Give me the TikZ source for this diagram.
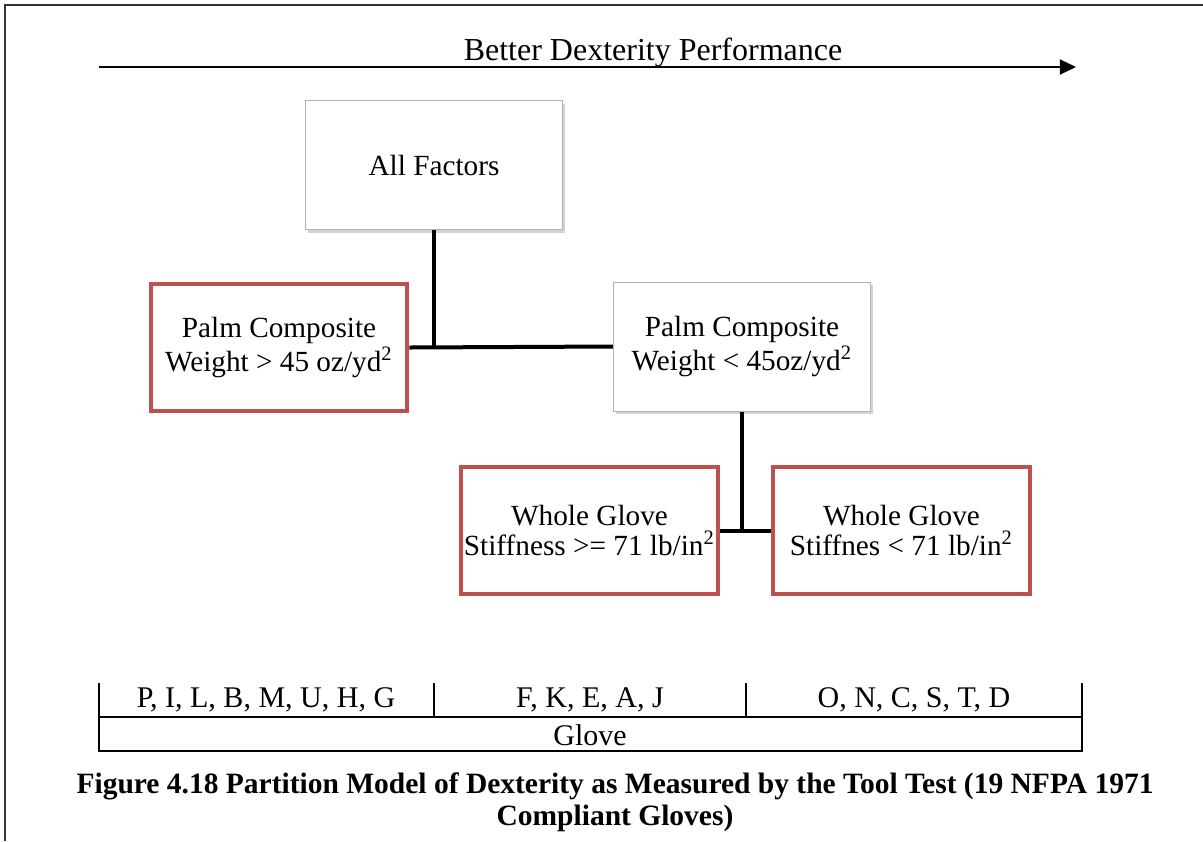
\documentclass[tikz,border=0pt]{standalone}
\usepackage{fontspec}
\setmainfont{Liberation Serif}
\usetikzlibrary{positioning,arrows.meta,shadows}
\definecolor{redbox}{RGB}{192,80,77}

\begin{document}
\begin{tikzpicture}[x=0.4pt,y=-0.4pt,>={Triangle[length=6.5pt,width=6pt]},
    every node/.style={font=\fontsize{12}{12.2}\selectfont,align=center},
    gbox/.style={draw=gray!60,line width=0.4pt,fill=white,minimum width=103pt,minimum height=51.6pt,
      inner sep=1pt,font=\fontsize{11.7}{12}\selectfont,
      drop shadow={shadow xshift=1pt,shadow yshift=-1.2pt,opacity=0.35}},
    rbox/.style={draw=redbox,line width=1.6pt,fill=white,minimum width=102.6pt,minimum height=50.6pt,
      inner sep=1pt,font=\fontsize{11.7}{12}\selectfont},
    link/.style={line width=1.6pt},
    rule/.style={line width=0.8pt}]
      \useasboundingbox (0,0) rectangle (1203,841);
      \draw[line width=0.9pt,black!80] (5,841) -- (5,5) -- (1203,5);
      % dexterity arrow
      \coordinate (s) at (99,67);
      \coordinate (t) at (1076,67);
      \draw[->,rule] (s) -- (t);
      \node[font=\fontsize{12.8}{13}\selectfont] (lbl) at (653,53) {Better Dexterity Performance};
      % partition tree
      \node[gbox] (A) at (434,165) {All Factors};
      \node[rbox] (B) at (279,347.5) {Palm Composite\\Weight > 45 oz/yd\textsuperscript{2}};
      \node[gbox] (C) at (742,346.5) {Palm Composite\\Weight < 45oz/yd\textsuperscript{2}};
      \node[rbox] (D) at (589.5,530.5) {Whole Glove\\Stiffness >= 71 lb/in\textsuperscript{2}};
      \node[rbox] (E) at (901.5,530.5) {Whole Glove\\Stiffnes < 71 lb/in\textsuperscript{2}};
      \draw[link] (B.east) -- (C.west);
      \draw[link] (A.south) -- (A.south |- B.east);
      \draw[link] (D.east) -- (E.west);
      \draw[link] (C.south) -- (C.south |- D.east);
      % glove table
      \draw[rule] (99,683) -- (99,751) -- (1082,751) -- (1082,683);
      \draw[rule] (99,717) -- (1082,717);
      \draw[rule] (434,683) -- (434,717);
      \draw[rule] (746,683) -- (746,717);
      \node (g1) at (266,700) {P, I, L, B, M, U, H, G};
      \node (g2) at (590,700) {F, K, E, A, J};
      \node (g3) at (914,700) {O, N, C, S, T, D};
      \node (gl) at (590,735) {Glove};
      \node[font=\fontsize{11.8}{12.8}\selectfont\bfseries] (cap) at (615,802)
        {Figure 4.18 Partition Model of Dexterity as Measured by the Tool Test (19 NFPA 1971\\Compliant Gloves)};
\end{tikzpicture}
\end{document}
